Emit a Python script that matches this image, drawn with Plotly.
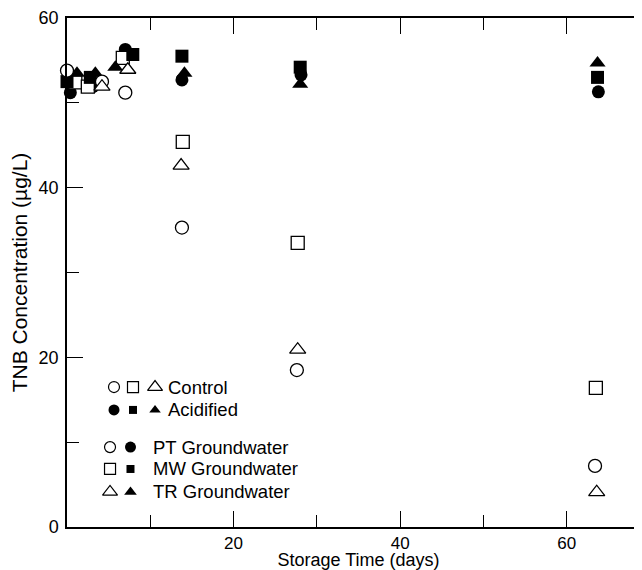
import plotly.graph_objects as go

# ---- data ----
pt_ctrl_x = [0.0, 4.2, 7.0, 13.8, 27.6, 63.4]
pt_ctrl_y = [53.8, 52.5, 51.2, 35.3, 18.5, 7.2]
mw_ctrl_x = [1.0, 2.5, 6.7, 13.9, 27.7, 63.5]
mw_ctrl_y = [52.4, 51.9, 55.3, 45.4, 33.5, 16.4]
tr_ctrl_x = [-0.4, 4.2, 7.3, 13.7, 27.7, 63.6]
tr_ctrl_y = [53.6, 51.9, 53.9, 42.6, 20.9, 4.1]
pt_acid_x = [0.4, 3.1, 7.0, 13.8, 28.1, 63.8]
pt_acid_y = [51.2, 51.9, 56.3, 52.7, 53.3, 51.3]
mw_acid_x = [0.0, 2.8, 7.9, 13.8, 28.0, 63.7]
mw_acid_y = [52.5, 53.0, 55.7, 55.5, 54.2, 53.0]
tr_acid_x = [1.2, 3.4, 5.8, 14.1, 28.0, 63.7]
tr_acid_y = [53.5, 53.5, 54.2, 53.5, 52.2, 54.7]

x_tickvals = [0, 20, 40, 60]
x_ticktext = ["", "20", "40", "60"]
y_tickvals = [0, 20, 40, 60]

FONT = "Liberation Sans, Arial, Helvetica, sans-serif"
BLACK = "black"

fig = go.Figure()

def add(x, y, symbol, filled, size):
    fig.add_trace(go.Scatter(
        x=x, y=y, mode="markers", cliponaxis=False, hoverinfo="skip",
        marker=dict(symbol=symbol, size=size,
                    color=BLACK if filled else "white",
                    line=dict(color=BLACK, width=0 if filled else 1.3))))

add(pt_acid_x, pt_acid_y, "circle", True, 13)
add(mw_ctrl_x, mw_ctrl_y, "square", False, 13)
add(mw_acid_x, mw_acid_y, "square", True, 13)
add(tr_acid_x, tr_acid_y, "triangle-up", True, 14)
add(pt_ctrl_x, pt_ctrl_y, "circle", False, 13)
add(tr_ctrl_x, tr_ctrl_y, "triangle-up", False, 14)

# dummy trace so the right-hand tick axis is drawn
fig.add_trace(go.Scatter(x=[], y=[], yaxis="y2", hoverinfo="skip"))

# ---- legend (key) drawn on an invisible 0..1 overlay axis ----
key_rows = [
    # (y, [(x, symbol, filled, size)], label, label_x)
    (0.275, [(0.0806, "circle", False, 11), (0.1132, "square", False, 11),
             (0.151, "triangle-up", False, 13)], "Control", 0.1695),
    (0.230, [(0.0806, "circle", True, 11), (0.1132, "square", True, 8),
             (0.151, "triangle-up", True, 10)], "Acidified", 0.1695),
    (0.157, [(0.0738, "circle", False, 11), (0.1089, "circle", True, 11)],
     "PT Groundwater", 0.144),
    (0.114, [(0.0738, "square", False, 11), (0.1089, "square", True, 8)],
     "MW Groundwater", 0.144),
    (0.069, [(0.0738, "triangle-up", False, 13), (0.1089, "triangle-up", True, 11)],
     "TR Groundwater", 0.144),
]
for ry, marks, label, lx in key_rows:
    for mx, sym, filled, sz in marks:
        fig.add_trace(go.Scatter(
            x=[mx], y=[ry], xaxis="x3", yaxis="y3", mode="markers",
            hoverinfo="skip", cliponaxis=False,
            marker=dict(symbol=sym, size=sz,
                        color=BLACK if filled else "white",
                        line=dict(color=BLACK, width=0 if filled else 1.2))))
    fig.add_annotation(x=lx, y=ry, xref="x3", yref="y3", text=label,
                       showarrow=False, xanchor="left", yanchor="middle",
                       font=dict(family=FONT, size=18.5, color=BLACK))

axis_common = dict(showgrid=False, zeroline=False, ticks="inside",
                   tickcolor=BLACK, tickwidth=1.3, linecolor=BLACK, linewidth=1.5)

fig.update_layout(
    width=642, height=562,
    margin=dict(l=59, r=0, t=10, b=43),
    plot_bgcolor="white", paper_bgcolor="white",
    showlegend=False,
    font=dict(family=FONT, color=BLACK, size=18),
    xaxis=dict(range=[0, 70.0], tickmode="array", tickvals=x_tickvals,
               ticktext=x_ticktext, ticklen=16, showline=True, mirror="ticks",
               minor=dict(dtick=10, tick0=0, ticks="inside", ticklen=12,
                          tickwidth=1.3, tickcolor=BLACK),
               tickfont=dict(size=17),
               title=dict(text="Storage Time (days)", standoff=0,
                          font=dict(size=18)),
               **axis_common),
    yaxis=dict(range=[0, 60], tickmode="array", tickvals=y_tickvals,
               ticklen=16, showline=True, mirror=False,
               ticklabelstandoff=3,
               minor=dict(dtick=10, tick0=0, ticks="inside", ticklen=12,
                          tickwidth=1.3, tickcolor=BLACK),
               tickfont=dict(size=18),
               title=dict(text="TNB Concentration (µg/L)", standoff=17,
                          font=dict(size=21)),
               **axis_common),
    yaxis2=dict(range=[0, 60], overlaying="y", side="right", anchor="x",
                tickmode="array", tickvals=y_tickvals, ticklen=16,
                showline=False, showticklabels=False, showgrid=False,
                zeroline=False, ticks="inside", tickcolor=BLACK, tickwidth=1.3,
                minor=dict(dtick=10, tick0=0, ticks="inside", ticklen=12,
                           tickwidth=1.3, tickcolor=BLACK)),
    xaxis3=dict(range=[0, 1], overlaying="x", anchor="y3", visible=False),
    yaxis3=dict(range=[0, 1], overlaying="y", anchor="x3", visible=False),
)

fig.write_html("out.html")
